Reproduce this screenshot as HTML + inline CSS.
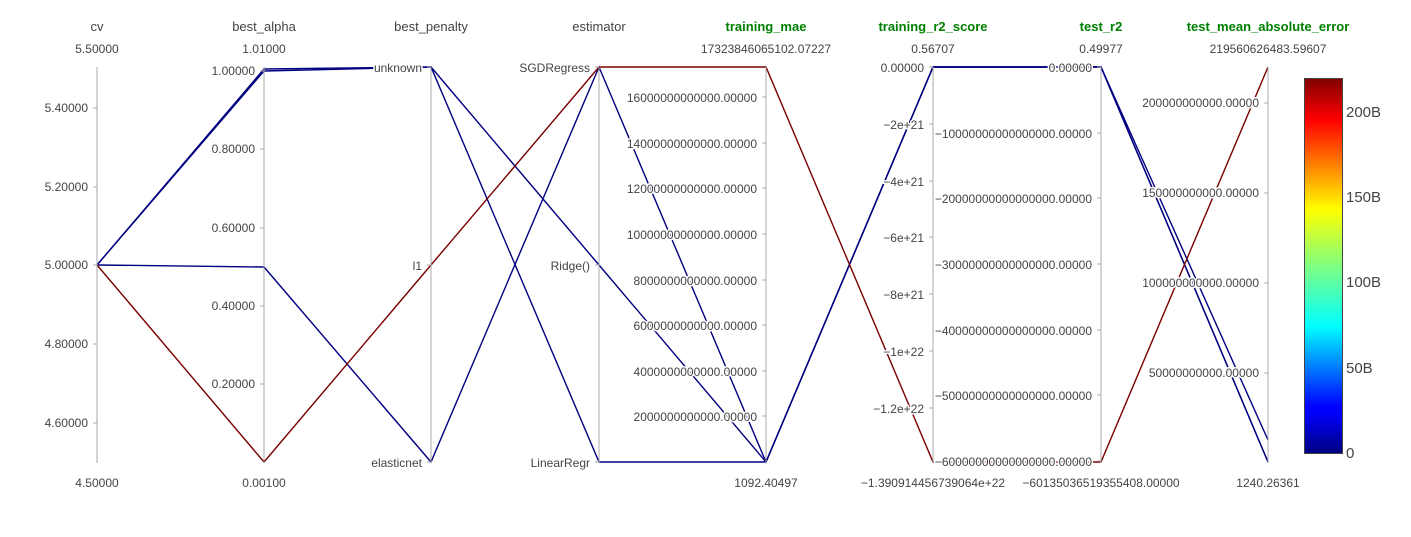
<!DOCTYPE html>
<html><head><meta charset="utf-8"><style>
html,body{margin:0;padding:0;background:#fff;}
svg text{font-family:"Liberation Sans",Arial,sans-serif;font-size:12px;fill:#444;}
.t{text-anchor:end;paint-order:stroke;stroke:#fff;stroke-width:3px;stroke-linejoin:round;}
.h{text-anchor:middle;font-size:13px;}
.g{fill:#008000;font-weight:bold;}
.c{text-anchor:middle;}
</style></head><body>
<svg width="1411" height="532" xmlns="http://www.w3.org/2000/svg">
<defs>
<linearGradient id="jet" x1="0" y1="1" x2="0" y2="0">
<stop offset="0" stop-color="#000080"/><stop offset="0.11" stop-color="#0000ff"/>
<stop offset="0.125" stop-color="#0000ff"/><stop offset="0.34" stop-color="#00ffff"/>
<stop offset="0.5" stop-color="#80ff80"/><stop offset="0.65" stop-color="#ffff00"/>
<stop offset="0.89" stop-color="#ff0000"/><stop offset="1" stop-color="#800000"/>
</linearGradient>
</defs>
<g fill="none" stroke-width="1.4">
<polyline stroke="#000080" points="97,265 264,69 431,67 599,462 766,462 933,67 1101,67 1268,462"/>
<polyline stroke="#000080" points="97,265 264,71 431,67 599,265 766,462 933,67 1101,67 1268,440"/>
<polyline stroke="#000080" points="97,265 264,267 431,462 599,67 766,462 933,67 1101,67 1268,462"/>
<polyline stroke="#7a0000" points="97,265 264,462 431,265 599,67 766,67 933,462 1101,462 1268,67"/>
</g>
<g stroke="#aaa" stroke-width="1">
<line x1="97" y1="67" x2="97" y2="463"/><line x1="264" y1="67" x2="264" y2="463"/>
<line x1="431" y1="67" x2="431" y2="463"/><line x1="599" y1="67" x2="599" y2="463"/>
<line x1="766" y1="67" x2="766" y2="463"/><line x1="933" y1="67" x2="933" y2="463"/>
<line x1="1101" y1="67" x2="1101" y2="463"/><line x1="1268" y1="67" x2="1268" y2="463"/>
</g>
<g stroke="#aaa" stroke-width="1">
<path d="M93 108h4M93 187h4M93 265h4M93 344h4M93 423h4"/>
<path d="M260 71h4M260 149h4M260 228h4M260 306h4M260 384h4"/>
<path d="M427 67h4M427 265h4M427 462h4"/>
<path d="M595 67h4M595 265h4M595 462h4"/>
<path d="M762 97h4M762 143h4M762 188h4M762 234h4M762 280h4M762 325h4M762 371h4M762 416h4"/>
<path d="M929 67h4M929 124h4M929 181h4M929 237h4M929 294h4M929 351h4M929 408h4"/>
<path d="M1097 67h4M1097 133h4M1097 198h4M1097 264h4M1097 330h4M1097 395h4M1097 461h4"/>
<path d="M1264 103h4M1264 193h4M1264 283h4M1264 373h4"/>
</g>
<text class="h" x="97" y="31">cv</text>
<text class="h" x="264" y="31">best_alpha</text>
<text class="h" x="431" y="31">best_penalty</text>
<text class="h" x="599" y="31">estimator</text>
<text class="h g" x="766" y="31">training_mae</text>
<text class="h g" x="933" y="31">training_r2_score</text>
<text class="h g" x="1101" y="31">test_r2</text>
<text class="h g" x="1268" y="31">test_mean_absolute_error</text>
<text class="c" x="97" y="53">5.50000</text><text class="c" x="97" y="487">4.50000</text>
<text class="c" x="264" y="53">1.01000</text><text class="c" x="264" y="487">0.00100</text>
<text class="c" x="766" y="53">17323846065102.07227</text><text class="c" x="766" y="487">1092.40497</text>
<text class="c" x="933" y="53">0.56707</text><text class="c" x="933" y="487">−1.390914456739064e+22</text>
<text class="c" x="1101" y="53">0.49977</text><text class="c" x="1101" y="487">−60135036519355408.00000</text>
<text class="c" x="1268" y="53">219560626483.59607</text><text class="c" x="1268" y="487">1240.26361</text>
<g>
<text class="t" x="88" y="112">5.40000</text><text class="t" x="88" y="191">5.20000</text><text class="t" x="88" y="269">5.00000</text><text class="t" x="88" y="348">4.80000</text><text class="t" x="88" y="427">4.60000</text>
<text class="t" x="255" y="75">1.00000</text><text class="t" x="255" y="153">0.80000</text><text class="t" x="255" y="232">0.60000</text><text class="t" x="255" y="310">0.40000</text><text class="t" x="255" y="388">0.20000</text>
<text class="t" x="422" y="72">unknown</text><text class="t" x="422" y="270">l1</text><text class="t" x="422" y="467">elasticnet</text>
<text class="t" x="590" y="72">SGDRegress</text><text class="t" x="590" y="270">Ridge()</text><text class="t" x="590" y="467">LinearRegr</text>
<text class="t" x="757" y="102">16000000000000.00000</text><text class="t" x="757" y="148">14000000000000.00000</text><text class="t" x="757" y="193">12000000000000.00000</text><text class="t" x="757" y="239">10000000000000.00000</text><text class="t" x="757" y="285">8000000000000.00000</text><text class="t" x="757" y="330">6000000000000.00000</text><text class="t" x="757" y="376">4000000000000.00000</text><text class="t" x="757" y="421">2000000000000.00000</text>
<text class="t" x="924" y="72">0.00000</text><text class="t" x="924" y="129">−2e+21</text><text class="t" x="924" y="186">−4e+21</text><text class="t" x="924" y="242">−6e+21</text><text class="t" x="924" y="299">−8e+21</text><text class="t" x="924" y="356">−1e+22</text><text class="t" x="924" y="413">−1.2e+22</text>
<text class="t" x="1092" y="72">0.00000</text><text class="t" x="1092" y="138">−10000000000000000.00000</text><text class="t" x="1092" y="203">−20000000000000000.00000</text><text class="t" x="1092" y="269">−30000000000000000.00000</text><text class="t" x="1092" y="335">−40000000000000000.00000</text><text class="t" x="1092" y="400">−50000000000000000.00000</text><text class="t" x="1092" y="466">−60000000000000000.00000</text>
<text class="t" x="1259" y="107">200000000000.00000</text><text class="t" x="1259" y="197">150000000000.00000</text><text class="t" x="1259" y="287">100000000000.00000</text><text class="t" x="1259" y="377">50000000000.00000</text>
</g>
<rect x="1304.5" y="78.5" width="38" height="375" fill="url(#jet)" stroke="#444" stroke-width="1"/>
<text x="1346" y="117" style="font-size:15px">200B</text>
<text x="1346" y="202" style="font-size:15px">150B</text>
<text x="1346" y="287" style="font-size:15px">100B</text>
<text x="1346" y="373" style="font-size:15px">50B</text>
<text x="1346" y="458" style="font-size:15px">0</text>
</svg>
</body></html>
